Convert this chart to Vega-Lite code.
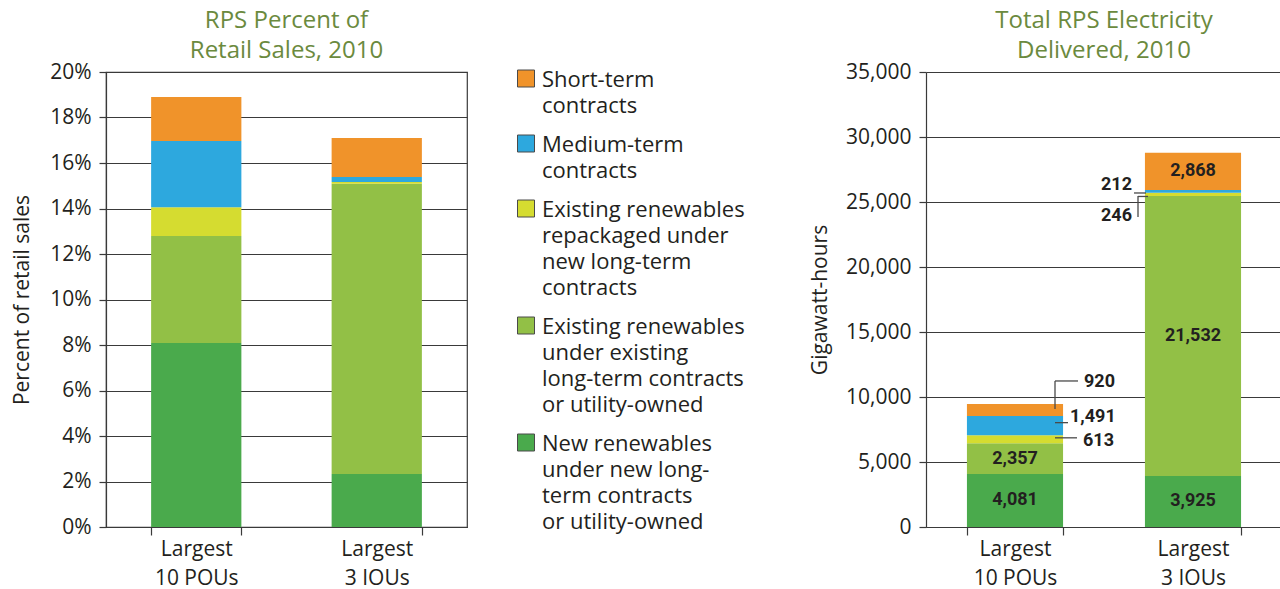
{
  "$schema": "https://vega.github.io/schema/vega-lite/v6.json",
  "padding": {"left": 11, "top": 8, "right": 0, "bottom": 0},
  "background": "white",
  "spacing": 59,
  "config": {
    "font": "Open Sans",
    "view": {"stroke": null},
    "axis": {
      "labelFont": "Open Sans", "labelFontSize": 21, "labelColor": "#231f20",
      "titleFont": "Open Sans", "titleFontSize": 21, "titleFontWeight": "normal", "titleColor": "#231f20",
      "domainColor": "#3a3a3a", "tickColor": "#3a3a3a", "gridColor": "#3a3a3a", "gridOpacity": 1,
      "gridWidth": 1.2, "domainWidth": 1.2, "tickWidth": 1.2
    },
    "style": {"guide-label": {"lineHeight": 26}},
    "title": {"font": "Open Sans", "fontSize": 24, "fontWeight": "normal", "color": "#6b8a3e", "lineHeight": 30, "anchor": "middle", "offset": -2}
  },
  "datasets": {
    "rps": [
      {"group": "Largest 10 POUs", "category": "New renewables under new long-term contracts or utility-owned", "tier": 1, "pct": 8.09, "gwh": 4081},
      {"group": "Largest 10 POUs", "category": "Existing renewables under existing long-term contracts or utility-owned", "tier": 2, "pct": 4.70, "gwh": 2357},
      {"group": "Largest 10 POUs", "category": "Existing renewables repackaged under new long-term contracts", "tier": 3, "pct": 1.26, "gwh": 613},
      {"group": "Largest 10 POUs", "category": "Medium-term contracts", "tier": 4, "pct": 2.92, "gwh": 1491},
      {"group": "Largest 10 POUs", "category": "Short-term contracts", "tier": 5, "pct": 1.93, "gwh": 920},
      {"group": "Largest 3 IOUs", "category": "New renewables under new long-term contracts or utility-owned", "tier": 1, "pct": 2.33, "gwh": 3925},
      {"group": "Largest 3 IOUs", "category": "Existing renewables under existing long-term contracts or utility-owned", "tier": 2, "pct": 12.76, "gwh": 21532},
      {"group": "Largest 3 IOUs", "category": "Existing renewables repackaged under new long-term contracts", "tier": 3, "pct": 0.08, "gwh": 246},
      {"group": "Largest 3 IOUs", "category": "Medium-term contracts", "tier": 4, "pct": 0.21, "gwh": 212},
      {"group": "Largest 3 IOUs", "category": "Short-term contracts", "tier": 5, "pct": 1.72, "gwh": 2868}
    ]
  },
  "resolve": {"legend": {"color": "independent"}},
  "hconcat": [
    {
      "width": 361, "height": 455,
      "title": {"text": ["RPS Percent of", "Retail Sales, 2010"]},
      "data": {"name": "rps"},
      "view": {"stroke": "#3a3a3a", "strokeWidth": 1.2},
      "mark": {"type": "bar"},
      "encoding": {
        "x": {"field": "group", "type": "nominal", "sort": null,
          "scale": {"paddingInner": 0.5, "paddingOuter": 0.25},
          "axis": {"title": null, "labelAngle": 0, "labelExpr": "[slice(datum.label,0,7), slice(datum.label,8)]",
            "tickBand": "extent", "tickSize": 8, "labelPadding": 3, "labelLineHeight": 29, "grid": false}},
        "y": {"field": "pct", "type": "quantitative", "stack": "zero", "scale": {"domain": [0, 20]},
          "axis": {"title": "Percent of retail sales", "values": [0, 2, 4, 6, 8, 10, 12, 14, 16, 18, 20],
            "labelExpr": "datum.value + '%'", "tickSize": 7, "labelPadding": 8, "titlePadding": 17, "grid": true}},
        "order": {"field": "tier", "type": "quantitative"},
        "color": {"field": "category", "type": "nominal",
          "scale": {"domain": ["Short-term contracts", "Medium-term contracts", "Existing renewables repackaged under new long-term contracts", "Existing renewables under existing long-term contracts or utility-owned", "New renewables under new long-term contracts or utility-owned"],
            "range": ["#f0932a", "#2da8de", "#d5dc30", "#92c046", "#4aaa4c"]},
          "legend": {"title": null, "orient": "right", "offset": 44, "padding": 4,
            "labelFont": "Open Sans", "labelFontSize": 22, "labelColor": "#231f20", "labelLimit": 400,
            "labelBaseline": "alphabetic", "labelOffset": 5, "rowPadding": 16,
            "symbolType": "M-1,-2H1V0H-1Z", "symbolSize": 289, "symbolStrokeColor": "#4a4a4a", "symbolStrokeWidth": 1,
            "labelExpr": "datum.label == 'Short-term contracts' ? ['Short-term', 'contracts'] : datum.label == 'Medium-term contracts' ? ['Medium-term', 'contracts'] : datum.label == 'Existing renewables repackaged under new long-term contracts' ? ['Existing renewables', 'repackaged under', 'new long-term', 'contracts'] : datum.label == 'Existing renewables under existing long-term contracts or utility-owned' ? ['Existing renewables', 'under existing', 'long-term contracts', 'or utility-owned'] : ['New renewables', 'under new long-', 'term contracts', 'or utility-owned']"}}
      }
    },
    {
      "width": 356, "height": 455,
      "title": {"text": ["Total RPS Electricity", "Delivered, 2010"]},
      "data": {"name": "rps"},
      "encoding": {
        "x": {"field": "group", "type": "nominal", "sort": null,
          "scale": {"paddingInner": 0.46, "paddingOuter": 0.23},
          "axis": {"title": null, "labelAngle": 0, "labelExpr": "[slice(datum.label,0,7), slice(datum.label,8)]",
            "tickBand": "extent", "tickSize": 8, "labelPadding": 3, "labelLineHeight": 29, "grid": false}},
        "order": {"field": "tier", "type": "quantitative"},
        "color": {"field": "category", "type": "nominal",
          "scale": {"domain": ["Short-term contracts", "Medium-term contracts", "Existing renewables repackaged under new long-term contracts", "Existing renewables under existing long-term contracts or utility-owned", "New renewables under new long-term contracts or utility-owned"],
            "range": ["#f0932a", "#2da8de", "#d5dc30", "#92c046", "#4aaa4c"]},
          "legend": null}
      },
      "layer": [
        {"mark": {"type": "bar"},
          "encoding": {"y": {"field": "gwh", "type": "quantitative", "stack": "zero", "scale": {"domain": [0, 35000]},
            "axis": {"title": "Gigawatt-hours", "values": [0, 5000, 10000, 15000, 20000, 25000, 30000, 35000], "labelExpr": "format(datum.value, ',')", "tickSize": 7, "labelPadding": 8, "titlePadding": 15, "grid": true}}}},
        {"mark": {"type": "text", "font": "Roboto", "fontWeight": "bold", "fontSize": 18, "baseline": "middle"},
          "encoding": {"y": {"field": "gwh", "type": "quantitative", "stack": "zero", "bandPosition": 0.5,
              "axis": {"title": "Gigawatt-hours", "values": [0, 5000, 10000, 15000, 20000, 25000, 30000, 35000], "labelExpr": "format(datum.value, ',')", "tickSize": 7, "labelPadding": 8, "titlePadding": 15, "grid": true}},
            "text": {"field": "gwh", "type": "quantitative", "format": ",", "condition": {"test": "datum.gwh < 2000", "value": ""}},
            "fill": {"value": "#231f20"}}},
        {"mark": {"type": "text", "font": "Roboto", "fontWeight": "bold", "fontSize": 18, "baseline": "middle", "align": "left", "dx": 69, "dy": -28},
          "encoding": {"y": {"field": "gwh", "type": "quantitative", "stack": "zero", "bandPosition": 0.5,
              "axis": {"title": "Gigawatt-hours", "values": [0, 5000, 10000, 15000, 20000, 25000, 30000, 35000], "labelExpr": "format(datum.value, ',')", "tickSize": 7, "labelPadding": 8, "titlePadding": 15, "grid": true}},
            "text": {"field": "gwh", "type": "quantitative", "format": ",", "condition": {"test": "!(datum.group == 'Largest 10 POUs' && datum.category == 'Short-term contracts')", "value": ""}},
            "fill": {"value": "#231f20"}}},
        {"mark": {"type": "text", "font": "Roboto", "fontWeight": "bold", "fontSize": 18, "baseline": "middle", "align": "left", "dx": 55, "dy": -9},
          "encoding": {"y": {"field": "gwh", "type": "quantitative", "stack": "zero", "bandPosition": 0.5,
              "axis": {"title": "Gigawatt-hours", "values": [0, 5000, 10000, 15000, 20000, 25000, 30000, 35000], "labelExpr": "format(datum.value, ',')", "tickSize": 7, "labelPadding": 8, "titlePadding": 15, "grid": true}},
            "text": {"field": "gwh", "type": "quantitative", "format": ",", "condition": {"test": "!(datum.group == 'Largest 10 POUs' && datum.category == 'Medium-term contracts')", "value": ""}},
            "fill": {"value": "#231f20"}}},
        {"mark": {"type": "text", "font": "Roboto", "fontWeight": "bold", "fontSize": 18, "baseline": "middle", "align": "left", "dx": 68, "dy": 2},
          "encoding": {"y": {"field": "gwh", "type": "quantitative", "stack": "zero", "bandPosition": 0.5,
              "axis": {"title": "Gigawatt-hours", "values": [0, 5000, 10000, 15000, 20000, 25000, 30000, 35000], "labelExpr": "format(datum.value, ',')", "tickSize": 7, "labelPadding": 8, "titlePadding": 15, "grid": true}},
            "text": {"field": "gwh", "type": "quantitative", "format": ",", "condition": {"test": "!(datum.group == 'Largest 10 POUs' && datum.category == 'Existing renewables repackaged under new long-term contracts')", "value": ""}},
            "fill": {"value": "#231f20"}}},
        {"mark": {"type": "text", "font": "Roboto", "fontWeight": "bold", "fontSize": 18, "baseline": "middle", "align": "right", "dx": -61, "dy": -6},
          "encoding": {"y": {"field": "gwh", "type": "quantitative", "stack": "zero", "bandPosition": 0.5,
              "axis": {"title": "Gigawatt-hours", "values": [0, 5000, 10000, 15000, 20000, 25000, 30000, 35000], "labelExpr": "format(datum.value, ',')", "tickSize": 7, "labelPadding": 8, "titlePadding": 15, "grid": true}},
            "text": {"field": "gwh", "type": "quantitative", "format": ",", "condition": {"test": "!(datum.group == 'Largest 3 IOUs' && datum.category == 'Medium-term contracts')", "value": ""}},
            "fill": {"value": "#231f20"}}},
        {"mark": {"type": "text", "font": "Roboto", "fontWeight": "bold", "fontSize": 18, "baseline": "middle", "align": "right", "dx": -61, "dy": 22},
          "encoding": {"y": {"field": "gwh", "type": "quantitative", "stack": "zero", "bandPosition": 0.5,
              "axis": {"title": "Gigawatt-hours", "values": [0, 5000, 10000, 15000, 20000, 25000, 30000, 35000], "labelExpr": "format(datum.value, ',')", "tickSize": 7, "labelPadding": 8, "titlePadding": 15, "grid": true}},
            "text": {"field": "gwh", "type": "quantitative", "format": ",", "condition": {"test": "!(datum.group == 'Largest 3 IOUs' && datum.category == 'Existing renewables repackaged under new long-term contracts')", "value": ""}},
            "fill": {"value": "#231f20"}}},
        {"mark": {"type": "tick", "orient": "horizontal", "size": 1.3, "thickness": 28, "xOffset": 40, "yOffset": -15},
          "encoding": {"y": {"field": "gwh", "type": "quantitative", "stack": "zero", "bandPosition": 0.5,
              "axis": {"title": "Gigawatt-hours", "values": [0, 5000, 10000, 15000, 20000, 25000, 30000, 35000], "labelExpr": "format(datum.value, ',')", "tickSize": 7, "labelPadding": 8, "titlePadding": 15, "grid": true}},
            "fill": {"value": "#4a4a4a"},
            "opacity": {"condition": {"test": "datum.group == 'Largest 10 POUs' && datum.category == 'Short-term contracts'", "value": 1}, "value": 0}}},
        {"mark": {"type": "tick", "orient": "horizontal", "size": 23, "thickness": 1.3, "xOffset": 51.5, "yOffset": -29},
          "encoding": {"y": {"field": "gwh", "type": "quantitative", "stack": "zero", "bandPosition": 0.5,
              "axis": {"title": "Gigawatt-hours", "values": [0, 5000, 10000, 15000, 20000, 25000, 30000, 35000], "labelExpr": "format(datum.value, ',')", "tickSize": 7, "labelPadding": 8, "titlePadding": 15, "grid": true}},
            "fill": {"value": "#4a4a4a"},
            "opacity": {"condition": {"test": "datum.group == 'Largest 10 POUs' && datum.category == 'Short-term contracts'", "value": 1}, "value": 0}}},
        {"mark": {"type": "tick", "orient": "horizontal", "size": 13, "thickness": 1.3, "xOffset": 46.5, "yOffset": -3},
          "encoding": {"y": {"field": "gwh", "type": "quantitative", "stack": "zero", "bandPosition": 0.5,
              "axis": {"title": "Gigawatt-hours", "values": [0, 5000, 10000, 15000, 20000, 25000, 30000, 35000], "labelExpr": "format(datum.value, ',')", "tickSize": 7, "labelPadding": 8, "titlePadding": 15, "grid": true}},
            "fill": {"value": "#4a4a4a"},
            "opacity": {"condition": {"test": "datum.group == 'Largest 10 POUs' && datum.category == 'Medium-term contracts'", "value": 1}, "value": 0}}},
        {"mark": {"type": "tick", "orient": "horizontal", "size": 22, "thickness": 1.3, "xOffset": 51, "yOffset": -1.5},
          "encoding": {"y": {"field": "gwh", "type": "quantitative", "stack": "zero", "bandPosition": 0.5,
              "axis": {"title": "Gigawatt-hours", "values": [0, 5000, 10000, 15000, 20000, 25000, 30000, 35000], "labelExpr": "format(datum.value, ',')", "tickSize": 7, "labelPadding": 8, "titlePadding": 15, "grid": true}},
            "fill": {"value": "#4a4a4a"},
            "opacity": {"condition": {"test": "datum.group == 'Largest 10 POUs' && datum.category == 'Existing renewables repackaged under new long-term contracts'", "value": 1}, "value": 0}}},
        {"mark": {"type": "tick", "orient": "horizontal", "size": 12, "thickness": 1.3, "xOffset": -53, "yOffset": 1.5},
          "encoding": {"y": {"field": "gwh", "type": "quantitative", "stack": "zero", "bandPosition": 0.5,
              "axis": {"title": "Gigawatt-hours", "values": [0, 5000, 10000, 15000, 20000, 25000, 30000, 35000], "labelExpr": "format(datum.value, ',')", "tickSize": 7, "labelPadding": 8, "titlePadding": 15, "grid": true}},
            "fill": {"value": "#4a4a4a"},
            "opacity": {"condition": {"test": "datum.group == 'Largest 3 IOUs' && datum.category == 'Medium-term contracts'", "value": 1}, "value": 0}}},
        {"mark": {"type": "tick", "orient": "horizontal", "size": 10, "thickness": 1.3, "xOffset": -50, "yOffset": 2},
          "encoding": {"y": {"field": "gwh", "type": "quantitative", "stack": "zero", "bandPosition": 0.5,
              "axis": {"title": "Gigawatt-hours", "values": [0, 5000, 10000, 15000, 20000, 25000, 30000, 35000], "labelExpr": "format(datum.value, ',')", "tickSize": 7, "labelPadding": 8, "titlePadding": 15, "grid": true}},
            "fill": {"value": "#4a4a4a"},
            "opacity": {"condition": {"test": "datum.group == 'Largest 3 IOUs' && datum.category == 'Existing renewables repackaged under new long-term contracts'", "value": 1}, "value": 0}}},
        {"mark": {"type": "tick", "orient": "horizontal", "size": 1.3, "thickness": 21, "xOffset": -55, "yOffset": 12},
          "encoding": {"y": {"field": "gwh", "type": "quantitative", "stack": "zero", "bandPosition": 0.5,
              "axis": {"title": "Gigawatt-hours", "values": [0, 5000, 10000, 15000, 20000, 25000, 30000, 35000], "labelExpr": "format(datum.value, ',')", "tickSize": 7, "labelPadding": 8, "titlePadding": 15, "grid": true}},
            "fill": {"value": "#4a4a4a"},
            "opacity": {"condition": {"test": "datum.group == 'Largest 3 IOUs' && datum.category == 'Existing renewables repackaged under new long-term contracts'", "value": 1}, "value": 0}}}
      ]
    }
  ]
}
